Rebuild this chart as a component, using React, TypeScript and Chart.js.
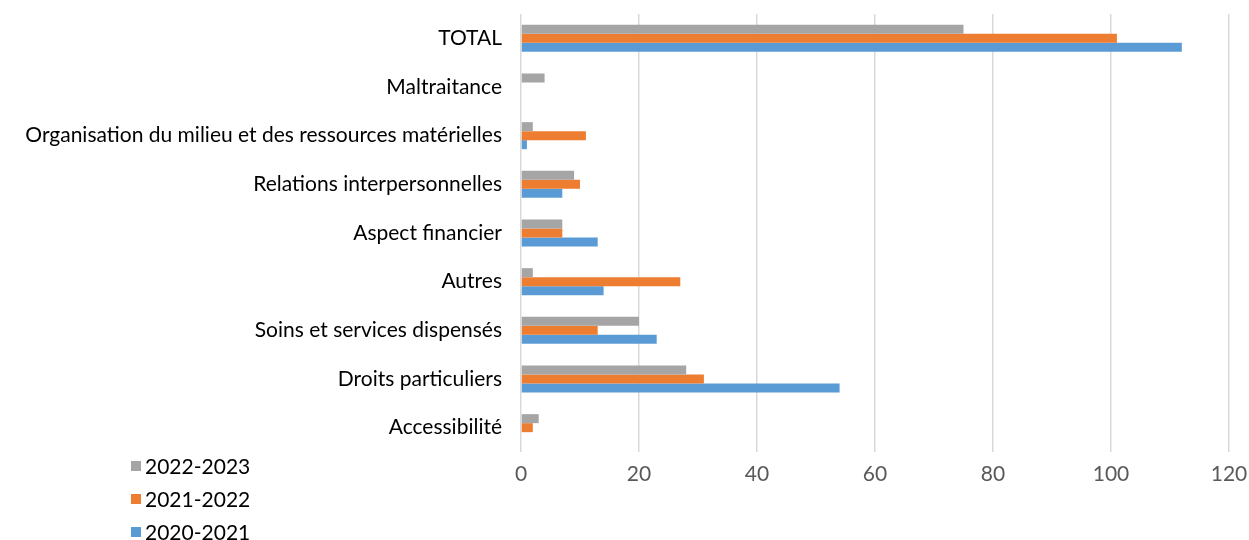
import React, { useEffect, useRef } from "react";
import { Chart, registerables } from "chart.js";

Chart.register(...registerables);

const categories = [
  "TOTAL",
  "Maltraitance",
  "Organisation du milieu et des ressources matérielles",
  "Relations interpersonnelles",
  "Aspect financier",
  "Autres",
  "Soins et services dispensés",
  "Droits particuliers",
  "Accessibilité",
];

const seriesLabels = ["2022-2023", "2021-2022", "2020-2021"];
const values2022_2023 = [75, 4, 2, 9, 7, 2, 20, 28, 3];
const values2021_2022 = [101, 0, 11, 10, 7, 27, 13, 31, 2];
const values2020_2021 = [112, 0, 1, 7, 13, 14, 23, 54, 0];
const xTicks = [0, 20, 40, 60, 80, 100, 120];

const colors = ["#a5a5a5", "#ed7d31", "#5b9bd5"];
const FONT = "Lato, 'DejaVu Sans', sans-serif";
const FS = 21;

const legendPlugin = {
  id: "customLegend",
  afterDraw(chart: any) {
    const ctx = chart.ctx;
    ctx.save();
    ctx.font = `${FS}px ${FONT}`;
    ctx.textBaseline = "middle";
    ctx.textAlign = "left";
    chart.data.datasets.forEach((ds: any, i: number) => {
      const y = 466 + i * 33;
      ctx.fillStyle = ds.backgroundColor;
      ctx.fillRect(131, y - 5, 10, 10);
      ctx.fillStyle = "#000000";
      ctx.fillText(ds.label, 145, y + 1);
    });
    ctx.restore();
  },
};

export default function App() {
  const ref = useRef<HTMLCanvasElement>(null);
  useEffect(() => {
    document.body.style.margin = "0";
    const chart = new Chart(ref.current!, {
      type: "bar",
      data: {
        labels: categories,
        datasets: [values2022_2023, values2021_2022, values2020_2021].map((d, i) => ({
          label: seriesLabels[i],
          data: d,
          backgroundColor: colors[i],
          borderWidth: 0,
          categoryPercentage: 0.555,
          barPercentage: 1,
        })),
      },
      options: {
        indexAxis: "y",
        animation: false,
        responsive: false,
        maintainAspectRatio: false,
        layout: { padding: { top: 14, right: 20, bottom: 0, left: 0 } },
        plugins: { legend: { display: false }, tooltip: { enabled: false } },
        scales: {
          x: {
            min: 0,
            max: 120,
            afterBuildTicks: (s: any) => {
              s.ticks = xTicks.map((v) => ({ value: v }));
            },
            afterFit: (s: any) => {
              s.height = 88;
              s.paddingLeft = 0;
              s.paddingRight = 0;
            },
            grid: { color: "#d9d9d9", lineWidth: 1.5, drawTicks: false },
            border: { display: false },
            ticks: {
              padding: 10,
              color: "#595959",
              font: { family: FONT, size: FS },
            },
          },
          y: {
            afterFit: (s: any) => {
              s.width = 521;
              s.paddingTop = 0;
              s.paddingBottom = 0;
            },
            grid: { display: false, drawTicks: false },
            border: { display: false },
            ticks: {
              padding: 19,
              color: "#000000",
              font: { family: FONT, size: FS },
            },
          },
        },
      },
      plugins: [legendPlugin],
    } as any);
    return () => chart.destroy();
  }, []);
  return (
    <div style={{ position: "absolute", left: 0, top: 0, width: 1249, height: 540 }}>
      <canvas ref={ref} width={1249} height={540} style={{ width: 1249, height: 540 }} />
    </div>
  );
}
